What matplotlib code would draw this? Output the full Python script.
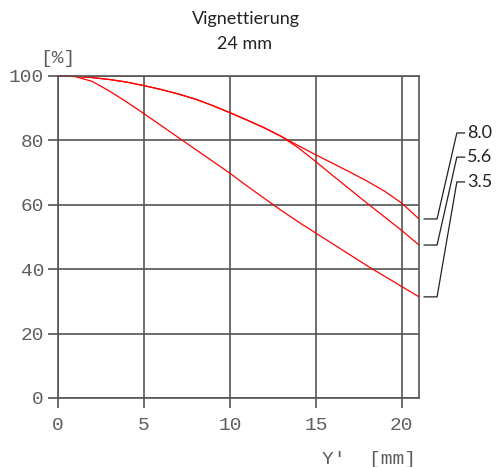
import matplotlib.pyplot as plt

# image height Y' in mm
y_img = [0, 1, 2, 3, 4, 5, 6, 7, 8, 9, 10, 11, 12, 13, 14, 15, 16, 17, 18, 19, 20, 21]

# relative illumination in % per aperture
vig_80 = [100, 99.9, 99.5, 98.9, 98.1, 97.0, 95.8, 94.4, 92.8, 90.8, 88.6,
          86.3, 83.9, 81.2, 78.3, 75.5, 72.8, 70.1, 67.3, 64.2, 60.5, 55.6]
vig_56 = [100, 99.9, 99.5, 98.9, 98.1, 97.0, 95.8, 94.4, 92.8, 90.8, 88.6,
          86.3, 83.9, 81.2, 77.6, 73.4, 69.0, 64.7, 60.4, 56.2, 52.0, 47.5]
vig_35 = [100, 99.8, 98.3, 95.3, 91.9, 88.3, 84.6, 80.9, 77.2, 73.5, 69.8,
          65.8, 62.0, 58.2, 54.6, 51.2, 47.8, 44.4, 41.0, 37.8, 34.6, 31.4]

apertures = ['8.0', '5.6', '3.5']
label_y = [82.3, 74.8, 67.1]

mono = 'Liberation Mono'
grey = '#555555'
txt = '#5e5e5e'

fig = plt.figure(figsize=(4.97, 4.67), dpi=100)
ax = fig.add_axes([0.1167, 0.1478, 0.7264, 0.6895])

ax.set_xlim(0, 21)
ax.set_ylim(0, 100)
ax.set_xticks([0, 5, 10, 15, 20])
ax.set_yticks([0, 20, 40, 60, 80, 100])
ax.grid(True, color=grey, lw=1.2)
for s in ax.spines.values():
    s.set_color(grey)
    s.set_linewidth(1.2)
ax.tick_params(length=7, width=1.2, color=grey, labelcolor=txt, labelsize=14)
ax.tick_params(axis='x', pad=7)
ax.tick_params(axis='y', pad=3)
for lab in ax.get_xticklabels() + ax.get_yticklabels():
    lab.set_family(mono)

curves = [vig_80, vig_56, vig_35]
for vals in curves:
    ax.plot(y_img, vals, color='#ff0000', lw=0.9, clip_on=False)

# leader lines from curve ends to aperture labels
for name, vals, ly in zip(apertures, curves, label_y):
    end = vals[-1]
    ax.plot([21.3, 22.05, 23.2, 23.65], [end, end, ly, ly], color='#222222',
            lw=0.9, clip_on=False)
    ax.text(23.8, ly, name, fontsize=13, family='Lato', color='#222222',
            va='center', ha='left')

fig.text(0.494, 0.959, 'Vignettierung', ha='center', va='center',
         fontsize=13, family='Lato', color='#222222')
fig.text(0.492, 0.906, '24 mm', ha='center', va='center',
         fontsize=13, family='Lato', color='#222222')

fig.text(0.117, 0.875, '[%]', ha='center', va='center', fontsize=14,
         family=mono, color=txt)
fig.text(0.837, 0.017, "Y'  [mm]", ha='right', va='center', fontsize=14,
         family=mono, color=txt)

fig.savefig('out.png', dpi=100)
